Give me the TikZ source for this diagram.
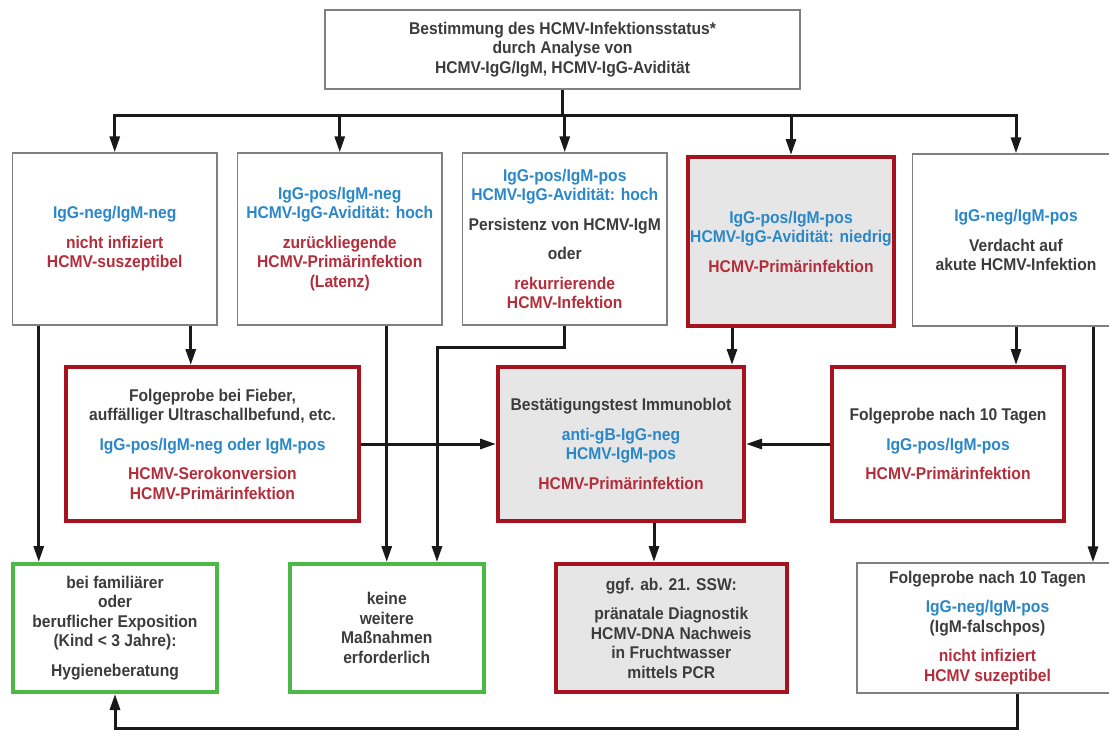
\documentclass[tikz,border=0pt]{standalone}
\usepackage{fontspec}
\setmainfont[FakeStretch=0.92]{Liberation Sans}
\usetikzlibrary{arrows.meta}

\definecolor{hblue}{HTML}{2A87C8}
\definecolor{hred}{HTML}{B32D3A}
\definecolor{hframe}{HTML}{A6131F}
\definecolor{hgreen}{HTML}{4CB847}
\definecolor{hgray}{HTML}{E6E6E6}
\definecolor{hborder}{HTML}{808080}
\definecolor{htext}{HTML}{3C3C3C}

\begin{document}
\begin{tikzpicture}[x=1pt,y=-1pt]
    \tikzstyle{every node}=[
        font=\fontsize{17}{19.5}\selectfont\bfseries,
        text=htext,
        align=center,
        inner sep=2pt]
    \tikzstyle{plainbox}=[draw=hborder, line width=1.3pt, fill=white]
    \tikzstyle{redbox}=[draw=hframe, line width=4pt, fill=white]
    \tikzstyle{graybox}=[redbox, fill=hgray]
    \tikzstyle{greenbox}=[draw=hgreen, line width=4pt, fill=white]
    \tikzstyle{toprow}=[minimum width=204.5pt, minimum height=172pt]
    \tikzstyle{midrow}=[minimum height=154pt]
    \tikzstyle{lowrow}=[minimum height=128pt]
    \tikzstyle{link}=[draw=black!90, line width=3pt]
    \tikzstyle{arrow}=[link, -{Triangle[length=16pt,width=10pt]}]

    \newcommand{\blu}[1]{\textcolor{hblue}{#1}}
    \newcommand{\rt}[1]{\textcolor{hred}{#1}}

    \useasboundingbox (0,0) rectangle (1109,731);

    % Eingangsuntersuchung
    \node[plainbox, minimum width=475pt, minimum height=79pt] (top) at (562.5,49.5)
        {Bestimmung des HCMV-Infektionsstatus*\\durch Analyse von\\HCMV-IgG/IgM, HCMV-IgG-Avidität};

    % erste Reihe: Befunde
    \node[plainbox, toprow] (b1) at (114.75,239)
        {\blu{IgG-neg/IgM-neg}\\[10pt]\rt{nicht infiziert}\\\rt{HCMV-suszeptibel}};
    \node[plainbox, toprow] (b2) at (339.75,239)
        {\blu{IgG-pos/IgM-neg}\\\blu{HCMV-IgG-Avidität: hoch}\\[10pt]\rt{zurückliegende}\\\rt{HCMV-Primärinfektion}\\\rt{(Latenz)}};
    \node[plainbox, toprow] (b3) at (564.75,239)
        {\blu{IgG-pos/IgM-pos}\\\blu{HCMV-IgG-Avidität: hoch}\\[10pt]Persistenz von HCMV-IgM\\[10pt]oder\\[10pt]\rt{rekurrierende}\\\rt{HCMV-Infektion}};
    \node[graybox, minimum width=204pt, minimum height=169pt] (b4) at (791,241.5)
        {\blu{IgG-pos/IgM-pos}\\\blu{HCMV-IgG-Avidität: niedrig}\\[10pt]\rt{HCMV-Primärinfektion}};
    \node[plainbox, toprow, minimum width=207pt] (b5) at (1016,240)
        {\blu{IgG-neg/IgM-pos}\\[10pt]Verdacht auf\\akute HCMV-Infektion};

    % zweite Reihe: Folgeproben und Bestaetigung
    \node[redbox, midrow, minimum width=293pt] (fieber) at (212.5,444)
        {Folgeprobe bei Fieber,\\auffälliger Ultraschallbefund, etc.\\[10pt]\blu{IgG-pos/IgM-neg oder IgM-pos}\\[10pt]\rt{HCMV-Serokonversion}\\\rt{HCMV-Primärinfektion}};
    \node[graybox, midrow, minimum width=246pt] (blot) at (621,444)
        {Bestätigungstest Immunoblot\\[10pt]\blu{anti-gB-IgG-neg}\\\blu{HCMV-IgM-pos}\\[10pt]\rt{HCMV-Primärinfektion}};
    \node[redbox, midrow, minimum width=232pt] (tage) at (948,444)
        {Folgeprobe nach 10 Tagen\\[10pt]\blu{IgG-pos/IgM-pos}\\[10pt]\rt{HCMV-Primärinfektion}};

    % dritte Reihe: Massnahmen
    \node[greenbox, lowrow, minimum width=204pt] (hyg) at (115,628)
        {bei familiärer\\oder\\beruflicher Exposition\\(Kind < 3 Jahre):\\[10pt]Hygieneberatung};
    \node[greenbox, lowrow, minimum width=194.5pt] (keine) at (386.75,628)
        {keine\\weitere\\Maßnahmen\\erforderlich};
    \node[graybox, lowrow, minimum width=230.6pt] (pcr) at (671.3,628)
        {ggf. ab. 21. SSW:\\[10pt]pränatale Diagnostik\\HCMV-DNA Nachweis\\in Fruchtwasser\\mittels PCR};
    \node[plainbox, minimum width=261pt, minimum height=130pt] (falsch) at (987.5,628)
        {Folgeprobe nach 10 Tagen\\[10pt]\blu{IgG-neg/IgM-pos}\\(IgM-falschpos)\\[10pt]\rt{nicht infiziert}\\\rt{HCMV suzeptibel}};

    \coordinate (bus) at (0,115);
    \coordinate (elbow) at (437,347);
    \coordinate (bottom) at (0,728);

    % Verteilung auf die Befunde
    \draw[link] (top) -- (top |- bus);
    \draw[link, line cap=rect] (b1.north |- bus) -- (b5.north |- bus);
    \foreach \n in {b1,b2,b3,b4,b5}
        \draw[arrow] (\n.north |- bus) -- (\n.north);

    % weitere Wege
    \draw[arrow] ([xshift=-76pt]b1.south) -- ([xshift=-76pt]b1.south |- hyg.north);
    \draw[arrow] ([xshift=76pt]b1.south) -- ([xshift=76pt]b1.south |- fieber.north);
    \draw[arrow] (b2.south -| keine.north) -- (keine.north);
    \draw[arrow] (b3.south) |- (elbow) -- (elbow |- keine.north);
    \draw[arrow] ([xshift=-59pt]b4.south) -- ([xshift=-59pt]b4.south |- blot.north);
    \draw[arrow] (b5.south) -- (b5.south |- tage.north);
    \draw[arrow] ([xshift=77pt]b5.south) -- ([xshift=77pt]b5.south |- falsch.north);
    \draw[arrow] (fieber) -- (blot);
    \draw[arrow] (tage) -- (blot);
    \draw[arrow] ([xshift=33pt]blot.south) -- ([xshift=33pt]blot.south |- pcr.north);
    \draw[arrow] ([xshift=30pt]falsch.south) |- (hyg.south |- bottom) -- (hyg.south);
\end{tikzpicture}
\end{document}
